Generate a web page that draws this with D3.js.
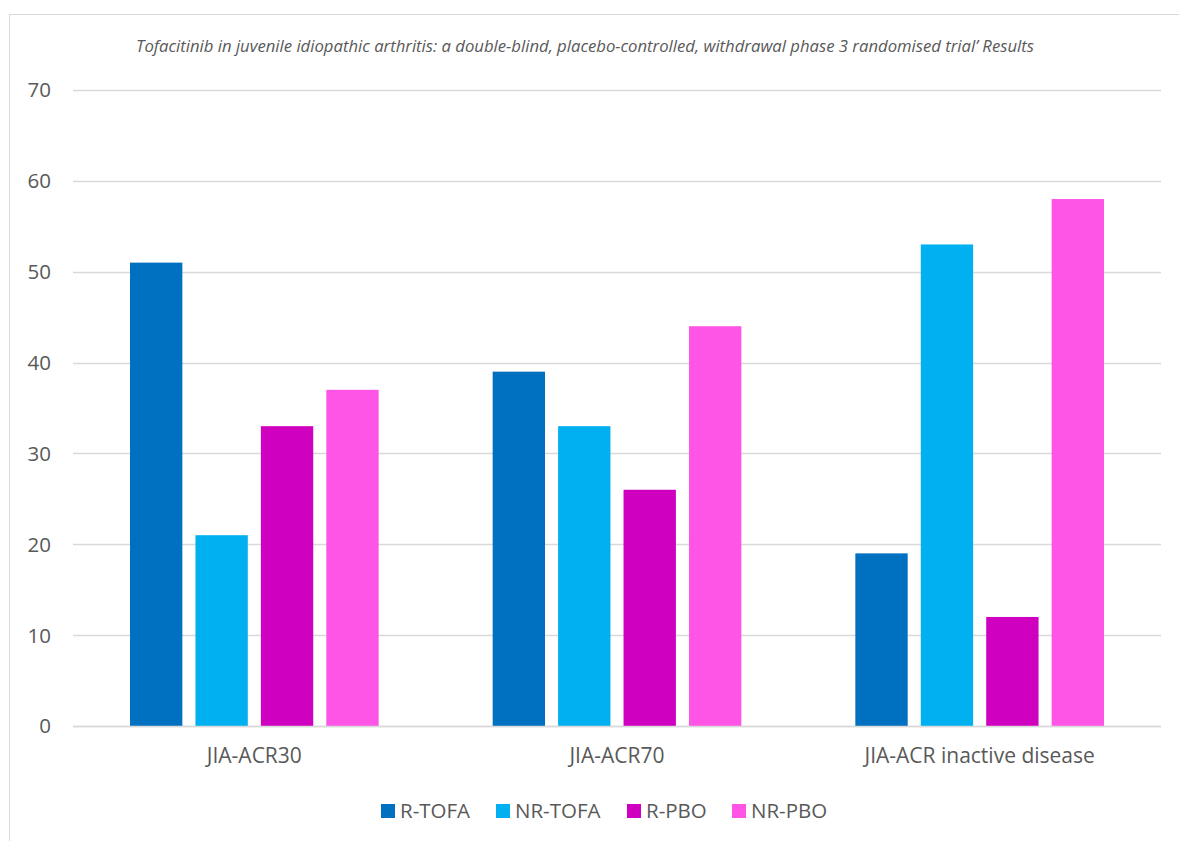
<!DOCTYPE html>
<html>
<head>
<meta charset="utf-8">
<script src="https://cdn.jsdelivr.net/npm/d3@7"></script>
<style>
  html, body { margin: 0; padding: 0; background: #fff; }
  svg { display: block; }
</style>
</head>
<body>
<svg id="chart" width="1179" height="841"></svg>
<script>
// Outcome groups and response rates (%) per arm
const categories = ["JIA-ACR30", "JIA-ACR70", "JIA-ACR inactive disease"];
const seriesNames = ["R-TOFA", "NR-TOFA", "R-PBO", "NR-PBO"];
const rTofa  = [51, 39, 19];
const nrTofa = [21, 33, 53];
const rPbo   = [33, 26, 12];
const nrPbo  = [37, 44, 58];
const yTicks = [0, 10, 20, 30, 40, 50, 60, 70];
const colors = ["#0070C0", "#00B0F0", "#D000C0", "#FF55E6"];
const titleText = "Tofacitinib in juvenile idiopathic arthritis: a double-blind, placebo-controlled, withdrawal phase 3 randomised trial\u2019 Results";

const seriesValues = [rTofa, nrTofa, rPbo, nrPbo];
const font = "'Open Sans', sans-serif";
const textColor = "#595959";

const svg = d3.select("#chart");

// chart frame
svg.append("rect")
  .attr("x", 9.5).attr("y", 14.5)
  .attr("width", 1200).attr("height", 900)
  .attr("fill", "#fff")
  .attr("stroke", "#d9d9d9").attr("stroke-width", 1);

const plot = { left: 73, right: 1161, top: 90, bottom: 726 };

const x0 = d3.scaleBand()
  .domain(categories)
  .range([plot.left, plot.right])
  .paddingInner(0).paddingOuter(0);

const x1 = d3.scaleBand()
  .domain(seriesNames)
  .range([57, x0.bandwidth() - 57])
  .paddingInner(0.2);

const y = d3.scaleLinear().domain([0, 70]).range([plot.bottom, plot.top]);

// gridlines
svg.append("g")
  .selectAll("line")
  .data(yTicks)
  .join("line")
  .attr("x1", plot.left).attr("x2", plot.right)
  .attr("y1", d => Math.round(y(d)) + 0.5)
  .attr("y2", d => Math.round(y(d)) + 0.5)
  .attr("stroke", "#d9d9d9").attr("stroke-width", 1.3);

// y tick labels
svg.append("g")
  .selectAll("text")
  .data(yTicks)
  .join("text")
  .attr("x", 51)
  .attr("y", d => y(d))
  .attr("dy", "0.36em")
  .attr("text-anchor", "end")
  .attr("font-family", font)
  .attr("font-size", 20.5)
  .attr("fill", textColor)
  .text(d => d);

// bars
const groups = svg.append("g")
  .selectAll("g")
  .data(categories)
  .join("g")
  .attr("transform", d => `translate(${x0(d)},0)`);

groups.selectAll("rect")
  .data((c, i) => seriesNames.map((s, k) => ({ s, v: seriesValues[k][i], k })))
  .join("rect")
  .attr("x", d => x1(d.s))
  .attr("width", x1.bandwidth())
  .attr("y", d => y(d.v))
  .attr("height", d => y(0) - y(d.v))
  .attr("fill", d => colors[d.k]);

// baseline
svg.append("line")
  .attr("x1", plot.left).attr("x2", plot.right)
  .attr("y1", plot.bottom + 0.5).attr("y2", plot.bottom + 0.5)
  .attr("stroke", "#d9d9d9").attr("stroke-width", 1.5);

// category labels
svg.append("g")
  .selectAll("text")
  .data(categories)
  .join("text")
  .attr("x", d => x0(d) + x0.bandwidth() / 2)
  .attr("y", 763)
  .attr("text-anchor", "middle")
  .attr("font-family", font)
  .attr("font-size", 21)
  .attr("fill", textColor)
  .text(d => d);

// title
svg.append("text")
  .attr("x", 585).attr("y", 52)
  .attr("text-anchor", "middle")
  .attr("font-family", font)
  .attr("font-style", "italic")
  .attr("font-size", 16.7)
  .attr("fill", textColor)
  .text(titleText);

// legend
const legendX = [381, 496, 627, 732];
const legend = svg.append("g")
  .selectAll("g")
  .data(seriesNames)
  .join("g")
  .attr("transform", (d, i) => `translate(${legendX[i]},804)`);
legend.append("rect")
  .attr("width", 14).attr("height", 14)
  .attr("fill", (d, i) => colors[i]);
legend.append("text")
  .attr("x", 19).attr("y", 14)
  .attr("font-family", font)
  .attr("font-size", 20.5)
  .attr("fill", textColor)
  .text(d => d);
</script>
</body>
</html>
